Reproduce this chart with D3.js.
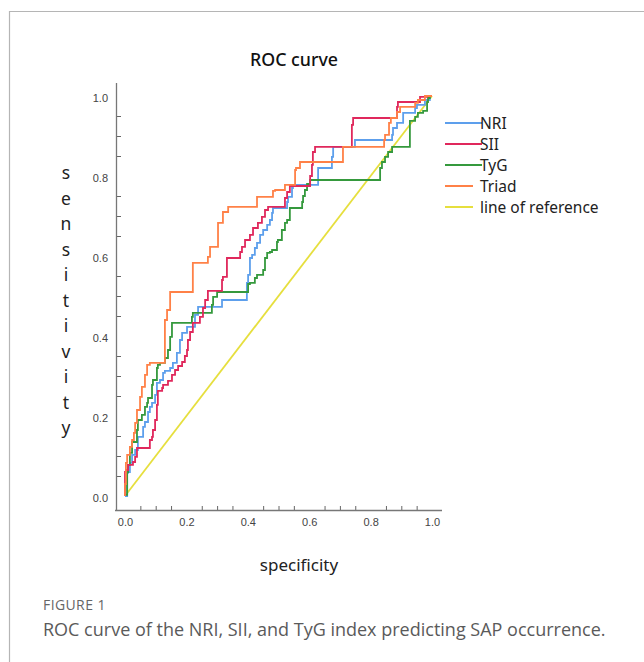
<!DOCTYPE html>
<html>
<head>
<meta charset="utf-8">
<script src="https://cdn.jsdelivr.net/npm/d3@7"></script>
<style>
  body { margin: 0; background: #fff; }
  svg { display: block; }
</style>
</head>
<body>
<script>
// ROC points (x = 1 - specificity, y = sensitivity)
var nriFpr = [0,0.007,0.01,0.016,0.023,0.033,0.042,0.049,0.059,0.065,0.075,0.081,0.088,0.098,0.104,0.114,0.124,0.13,0.147,0.156,0.169,0.179,0.186,0.202,0.228,0.238,0.251,0.316,0.319,0.397,0.401,0.407,0.414,0.423,0.43,0.44,0.45,0.463,0.472,0.479,0.482,0.495,0.528,0.531,0.544,0.547,0.554,0.629,0.635,0.674,0.678,0.684,0.749,0.756,0.87,0.873,0.886,0.906,0.912,0.945,0.951,0.977,0.993,1];
var nriTpr = [0,0,0.058,0.06,0.083,0.103,0.115,0.148,0.148,0.173,0.185,0.21,0.223,0.233,0.253,0.283,0.29,0.308,0.313,0.32,0.333,0.358,0.39,0.408,0.423,0.453,0.473,0.473,0.49,0.49,0.533,0.553,0.595,0.603,0.62,0.633,0.653,0.665,0.678,0.69,0.708,0.72,0.72,0.735,0.748,0.77,0.778,0.778,0.82,0.82,0.848,0.873,0.873,0.89,0.89,0.903,0.92,0.933,0.958,0.958,0.97,0.978,0.99,1];

var siiFpr = [0,0.003,0.01,0.026,0.033,0.039,0.042,0.081,0.088,0.091,0.098,0.104,0.107,0.107,0.121,0.124,0.14,0.153,0.163,0.173,0.186,0.195,0.202,0.205,0.212,0.221,0.244,0.254,0.261,0.27,0.287,0.316,0.319,0.332,0.336,0.375,0.381,0.391,0.407,0.417,0.433,0.446,0.456,0.466,0.472,0.521,0.528,0.537,0.554,0.603,0.609,0.612,0.619,0.651,0.739,0.743,0.765,0.886,0.889,0.912,0.961,0.984,1];
var siiTpr = [0,0.06,0.065,0.078,0.085,0.098,0.12,0.12,0.14,0.148,0.165,0.19,0.228,0.258,0.263,0.27,0.278,0.288,0.303,0.315,0.325,0.335,0.35,0.365,0.39,0.41,0.433,0.448,0.47,0.49,0.513,0.513,0.54,0.548,0.595,0.595,0.61,0.623,0.64,0.653,0.67,0.683,0.698,0.715,0.723,0.723,0.745,0.76,0.775,0.775,0.8,0.828,0.86,0.873,0.873,0.928,0.945,0.945,0.973,0.985,0.985,0.998,1];

var tygFpr = [0,0.007,0.01,0.016,0.023,0.026,0.039,0.042,0.055,0.065,0.072,0.075,0.088,0.091,0.104,0.107,0.114,0.13,0.14,0.147,0.153,0.153,0.163,0.218,0.221,0.235,0.283,0.287,0.3,0.303,0.401,0.407,0.423,0.43,0.45,0.456,0.463,0.472,0.479,0.495,0.498,0.511,0.521,0.528,0.537,0.544,0.577,0.58,0.586,0.593,0.603,0.619,0.831,0.837,0.847,0.857,0.87,0.876,0.928,0.928,0.945,0.954,0.971,0.984,0.987,0.993,1];
var tygTpr = [0,0.003,0.06,0.078,0.108,0.135,0.135,0.165,0.19,0.203,0.223,0.233,0.245,0.278,0.29,0.32,0.328,0.333,0.345,0.365,0.398,0.42,0.433,0.433,0.448,0.458,0.458,0.478,0.498,0.51,0.51,0.53,0.533,0.545,0.553,0.565,0.595,0.608,0.61,0.615,0.635,0.64,0.665,0.683,0.69,0.72,0.72,0.735,0.75,0.765,0.78,0.79,0.79,0.82,0.835,0.848,0.86,0.873,0.873,0.925,0.938,0.948,0.958,0.963,0.985,0.995,1];

var triadFpr = [0,0.003,0.007,0.016,0.023,0.029,0.033,0.039,0.049,0.055,0.065,0.072,0.081,0.088,0.13,0.13,0.137,0.147,0.15,0.221,0.228,0.27,0.277,0.287,0.303,0.319,0.336,0.358,0.43,0.43,0.482,0.489,0.521,0.528,0.554,0.557,0.57,0.58,0.71,0.71,0.844,0.847,0.86,0.866,0.886,0.896,0.906,0.945,0.954,0.977,0.987,1];
var triadTpr = [0,0.03,0.083,0.103,0.123,0.14,0.158,0.183,0.215,0.248,0.273,0.303,0.328,0.333,0.333,0.39,0.44,0.465,0.51,0.51,0.583,0.583,0.598,0.623,0.623,0.683,0.71,0.723,0.723,0.748,0.748,0.763,0.765,0.778,0.778,0.815,0.82,0.835,0.835,0.873,0.873,0.89,0.903,0.933,0.945,0.96,0.973,0.973,0.983,0.99,1,1];

var refFpr = [0, 1];
var refTpr = [0, 1];

var seriesNames = ["NRI", "SII", "TyG", "Triad", "line of reference"];
var seriesColors = ["#5d9fec", "#e0285c", "#35993d", "#ff8147", "#e6df3e"];

var yTickLabels = [0, 0.2, 0.4, 0.6, 0.8, 1.0];
var xTickLabels = [0, 0.2, 0.4, 0.6, 0.8, 1.0];

var W = 644, H = 662;

var svg = d3.select("body").append("svg")
            .attr("width", W)
            .attr("height", H);

// figure frame (left + top edges only show in the crop)
svg.append("path")
   .attr("d", "M9.5," + H + "V11.5H" + W)
   .attr("fill", "none")
   .attr("stroke", "#b5b5b5")
   .attr("stroke-width", 1.2);

var x = d3.scaleLinear().domain([0, 1]).range([125, 432]);
var y = d3.scaleLinear().domain([0, 1]).range([496, 96]);

// minor ticks every 0.05, skipping the labelled ones
var minor = d3.range(1, 20).map(function(i) { return i / 20; })
              .filter(function(v) { return Math.round(v * 20) % 4 !== 0; });

// x axis
var gx = svg.append("g").attr("transform", "translate(0,510)");
gx.call(d3.axisBottom(x).tickValues(minor).tickSize(-4).tickFormat(""));
gx.select(".domain").remove();
gx.selectAll(".tick line").attr("stroke", "#666");
var gxl = svg.append("g").attr("transform", "translate(0,510)");
gxl.call(d3.axisBottom(x).tickValues(xTickLabels).tickSize(0).tickPadding(8).tickFormat(d3.format(".1f")));
gxl.select(".domain").remove();
gxl.selectAll("text").attr("font-family", "Liberation Sans, Arial, sans-serif").attr("font-size", 11).attr("fill", "#444");
svg.append("line").attr("x1", 115).attr("x2", 442).attr("y1", 510.5).attr("y2", 510.5)
   .attr("stroke", "#777").attr("stroke-width", 1.3);

// y axis
var gy = svg.append("g").attr("transform", "translate(116,0)");
gy.call(d3.axisLeft(y).tickValues(minor).tickSize(-5).tickFormat(""));
gy.select(".domain").remove();
gy.selectAll(".tick line").attr("stroke", "#666");
var gyl = svg.append("g").attr("transform", "translate(116,0)");
gyl.call(d3.axisLeft(y).tickValues(yTickLabels).tickSize(0).tickPadding(8).tickFormat(d3.format(".1f")));
gyl.select(".domain").remove();
gyl.selectAll("text").attr("font-family", "Liberation Sans, Arial, sans-serif").attr("font-size", 11).attr("fill", "#444").attr("dy", "0.5em");
svg.append("line").attr("x1", 116.5).attr("x2", 116.5).attr("y1", 83).attr("y2", 511)
   .attr("stroke", "#777").attr("stroke-width", 1.3);

// curves
var line = d3.line()
             .x(function(d) { return x(d[0]); })
             .y(function(d) { return y(d[1]); })
             .curve(d3.curveStepBefore);
var straight = d3.line()
                 .x(function(d) { return x(d[0]); })
                 .y(function(d) { return y(d[1]); });

var curves = [
  d3.zip(nriFpr, nriTpr),
  d3.zip(siiFpr, siiTpr),
  d3.zip(tygFpr, tygTpr),
  d3.zip(triadFpr, triadTpr),
  d3.zip(refFpr, refTpr)
];

// reference line goes underneath, then NRI, TyG, SII, Triad
var drawOrder = [4, 0, 2, 1, 3];
drawOrder.forEach(function(i) {
  svg.append("path")
     .datum(curves[i])
     .attr("fill", "none")
     .attr("stroke", seriesColors[i])
     .attr("stroke-width", 1.8)
     .attr("d", i === 4 ? straight : line);
});

// legend
var legend = svg.append("g").attr("class", "legend");
var legendLineEnd = [482, 482, 482, 473, 473];
seriesNames.forEach(function(name, i) {
  var ly = 123 + i * 21;
  legend.append("line")
        .attr("x1", 445).attr("x2", legendLineEnd[i])
        .attr("y1", ly).attr("y2", ly)
        .attr("stroke", seriesColors[i])
        .attr("stroke-width", 2);
  legend.append("text")
        .attr("x", 480).attr("y", ly)
        .attr("dy", "0.36em")
        .attr("font-family", "Noto Sans, sans-serif")
        .attr("font-size", 15.5)
        .attr("fill", "#222")
        .text(name);
});

// title
svg.append("text")
   .attr("x", 294).attr("y", 60)
   .attr("dy", "0.36em")
   .attr("text-anchor", "middle")
   .attr("font-family", "Noto Sans, sans-serif")
   .attr("font-size", 18)
   .attr("font-weight", 500)
   .attr("fill", "#111")
   .attr("textLength", 88)
   .attr("lengthAdjust", "spacingAndGlyphs")
   .text("ROC curve");

// x label
svg.append("text")
   .attr("x", 299).attr("y", 565)
   .attr("dy", "0.36em")
   .attr("text-anchor", "middle")
   .attr("font-family", "Noto Sans, sans-serif")
   .attr("font-size", 17)
   .attr("fill", "#222")
   .text("specificity");

// y label, one letter per row
var yl = svg.append("text")
            .attr("text-anchor", "middle")
            .attr("font-family", "Noto Sans, sans-serif")
            .attr("font-size", 17.5)
            .attr("fill", "#222");
"sensitivity".split("").forEach(function(ch, i) {
  yl.append("tspan")
    .attr("x", 66)
    .attr("y", 173 + i * 25.5)
    .attr("dy", "0.36em")
    .text(ch);
});

// caption
svg.append("text")
   .attr("x", 43).attr("y", 605)
   .attr("dy", "0.36em")
   .attr("font-family", "Open Sans, sans-serif")
   .attr("font-size", 14)
   .attr("letter-spacing", 0.4)
   .attr("fill", "#666")
   .text("FIGURE 1");
svg.append("text")
   .attr("x", 43).attr("y", 630)
   .attr("dy", "0.36em")
   .attr("font-family", "Open Sans, sans-serif")
   .attr("font-size", 18)
   .attr("fill", "#5a5a5a")
   .text("ROC curve of the NRI, SII, and TyG index predicting SAP occurrence.");
</script>
</body>
</html>
